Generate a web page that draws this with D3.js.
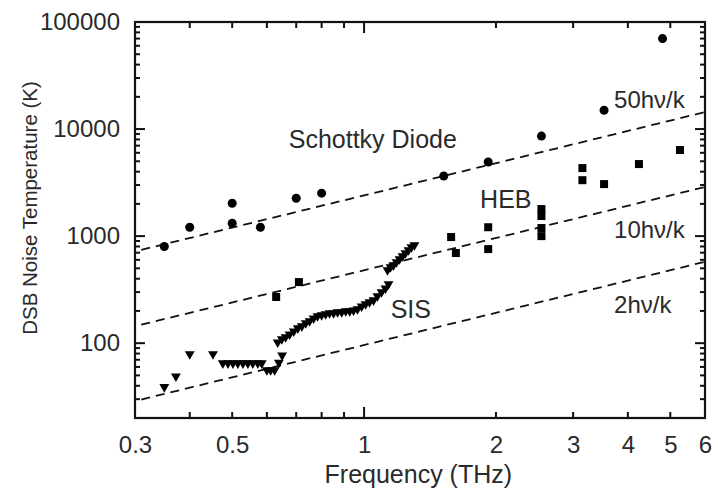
<!DOCTYPE html>
<html>
<head>
<meta charset="utf-8">
<script src="https://cdn.jsdelivr.net/npm/d3@7"></script>
<style>
  body { margin: 0; background: #fff; }
  text { font-family: "Liberation Sans", Arial, sans-serif; fill: #2a2a2a; }
</style>
</head>
<body>
<div id="chart"></div>
<script>
// data (frequency in THz, temperature in K)
var schottkyF = [0.35, 0.40, 0.50, 0.50, 0.58, 0.70, 0.80, 1.52, 1.92, 2.54, 3.53, 4.8];
var schottkyT = [800, 1210, 2030, 1320, 1210, 2260, 2520, 3640, 4920, 8600, 15000, 70000];

var hebF = [0.63, 0.71, 1.58, 1.62, 1.92, 1.92, 2.54, 2.54, 2.54, 2.54, 3.15, 3.15, 3.53, 4.24, 5.26];
var hebT = [270, 372, 980, 695, 1210, 756, 1790, 1540, 1190, 1000, 4320, 3330, 3060, 4710, 6370];

var sisF = [0.35, 0.372, 0.40, 0.452,
  0.476, 0.489, 0.502, 0.515, 0.529, 0.543, 0.557, 0.572, 0.584,
  0.600, 0.612, 0.625, 0.639, 0.650,
  0.635, 0.649, 0.662, 0.676, 0.691, 0.706, 0.721, 0.736, 0.751, 0.767, 0.783,
  0.800, 0.817, 0.834, 0.852, 0.870, 0.889, 0.908, 0.927, 0.946, 0.966,
  0.987, 1.008, 1.029, 1.051, 1.073, 1.096, 1.119, 1.137,
  1.131, 1.149, 1.167, 1.186, 1.205, 1.224, 1.243, 1.263, 1.283, 1.303];
var sisT = [39, 49, 79, 79,
  65, 65, 65, 65, 65, 65, 65, 65, 65,
  56, 56, 56, 66, 77,
  102, 109, 114, 121, 129, 138, 144, 154, 161, 171, 179,
  183, 187, 191, 191, 195, 195, 199, 199, 203, 208,
  221, 232, 242, 252, 275, 300, 326, 356,
  481, 513, 535, 572, 610, 651, 694, 740, 789, 824];

// reference lines T = n h nu / k  (h/k = 48 K per THz)
var lineN = [50, 10, 2];
var lineLabels = ["50hν/k", "10hν/k", "2hν/k"];
var lineLabelT = [15700, 960, 191];

var xTickLabels = [0.3, 0.5, 1, 2, 3, 4, 5, 6];
var yTickLabels = [100, 1000, 10000, 100000];

var margin = {top: 22, right: 13, bottom: 75, left: 135},
    width = 718 - margin.left - margin.right,
    height = 493 - margin.top - margin.bottom;

var svg = d3.select("#chart")
  .append("svg")
    .attr("width", width + margin.left + margin.right)
    .attr("height", height + margin.top + margin.bottom)
  .append("g")
    .attr("transform", "translate(" + margin.left + "," + margin.top + ")");

var x = d3.scaleLog().domain([0.3, 6]).range([0, width]);
var y = d3.scaleLog().domain([20, 100000]).range([height, 0]);

var xMinor = [0.3, 0.4, 0.5, 0.6, 0.7, 0.8, 0.9, 2, 3, 4, 5, 6];
var yMinor = [];
[10, 100, 1000, 10000].forEach(function(d) {
  for (var k = 2; k <= 9; k++) yMinor.push(d * k);
});
yMinor = yMinor.filter(function(v) { return v >= 20; });

// ticks, all pointing inward
function tickLines(vals, len, horizontal) {
  var g = svg.append("g").attr("stroke", "#111").attr("stroke-width", 2);
  vals.forEach(function(v) {
    if (horizontal) {
      g.append("line").attr("x1", x(v)).attr("x2", x(v)).attr("y1", height).attr("y2", height - len);
      g.append("line").attr("x1", x(v)).attr("x2", x(v)).attr("y1", 0).attr("y2", len);
    } else {
      g.append("line").attr("y1", y(v)).attr("y2", y(v)).attr("x1", 0).attr("x2", len);
      g.append("line").attr("y1", y(v)).attr("y2", y(v)).attr("x1", width).attr("x2", width - len);
    }
  });
}
tickLines(xMinor, 6, true);
tickLines([1], 11, true);
tickLines(yMinor, 5, false);
tickLines([100, 1000, 10000], 10, false);

// frame
svg.append("rect")
  .attr("width", width).attr("height", height)
  .attr("fill", "none").attr("stroke", "#111").attr("stroke-width", 2.2);

// tick labels
svg.append("g")
  .attr("transform", "translate(0," + height + ")")
  .call(d3.axisBottom(x).tickValues(xTickLabels).tickFormat(d3.format("")).tickSize(0).tickPadding(18))
  .call(function(g) { g.select(".domain").remove(); })
  .selectAll("text")
    .style("font-size", "24px")
    .style("font-family", "'Liberation Sans', Arial, sans-serif")
    .attr("fill", "#2a2a2a");

svg.append("g")
  .call(d3.axisLeft(y).tickValues(yTickLabels).tickFormat(d3.format("")).tickSize(0).tickPadding(15))
  .call(function(g) { g.select(".domain").remove(); })
  .selectAll("text")
    .style("font-size", "24px")
    .style("font-family", "'Liberation Sans', Arial, sans-serif")
    .attr("fill", "#2a2a2a");

// axis titles
svg.append("text")
  .attr("x", x(1.33))
  .attr("y", height + 65)
  .style("text-anchor", "middle")
  .style("font-size", "25px")
  .text("Frequency (THz)");

svg.append("text")
  .attr("transform", "translate(" + (-98) + "," + 186 + ") rotate(-90)")
  .style("text-anchor", "middle")
  .style("font-size", "20.5px")
  .text("DSB Noise Temperature (K)");

// dashed reference lines
svg.append("clipPath").attr("id", "plotclip")
  .append("rect").attr("width", width).attr("height", height);

lineN.forEach(function(n) {
  svg.append("line")
    .attr("clip-path", "url(#plotclip)")
    .attr("x1", x(0.31))
    .attr("y1", y(n * 48 * 0.31))
    .attr("x2", x(6))
    .attr("y2", y(n * 48 * 6))
    .attr("stroke", "#111")
    .attr("stroke-width", 1.8)
    .attr("stroke-dasharray", "9,6");
});

// line labels
svg.selectAll("lineLabel")
  .data(lineLabels)
  .enter()
  .append("text")
    .attr("x", function() { return x(3.72); })
    .attr("y", function(d, i) { return y(lineLabelT[i]); })
    .style("font-size", "24px")
    .text(function(d) { return d; });

// series labels
svg.append("text").attr("x", x(0.673)).attr("y", y(6640)).style("font-size", "25px").text("Schottky Diode");
svg.append("text").attr("x", x(1.84)).attr("y", y(1830)).style("font-size", "25px").text("HEB");
svg.append("text").attr("x", x(1.15)).attr("y", y(171)).style("font-size", "25px").text("SIS");

// Schottky circles
svg.selectAll("schottky")
  .data(schottkyF)
  .enter()
  .append("circle")
    .attr("cx", function(d) { return x(d); })
    .attr("cy", function(d, i) { return y(schottkyT[i]); })
    .attr("r", 4.5)
    .attr("fill", "#000");

// HEB squares
svg.selectAll("heb")
  .data(hebF)
  .enter()
  .append("rect")
    .attr("x", function(d) { return x(d) - 4; })
    .attr("y", function(d, i) { return y(hebT[i]) - 4; })
    .attr("width", 8)
    .attr("height", 8)
    .attr("fill", "#000");

// SIS down triangles
var tri = d3.symbol().type(d3.symbolTriangle).size(42);
svg.selectAll("sis")
  .data(sisF)
  .enter()
  .append("path")
    .attr("d", tri)
    .attr("transform", function(d, i) {
      return "translate(" + x(d) + "," + y(sisT[i]) + ") rotate(180)";
    })
    .attr("fill", "#000");
</script>
</body>
</html>
